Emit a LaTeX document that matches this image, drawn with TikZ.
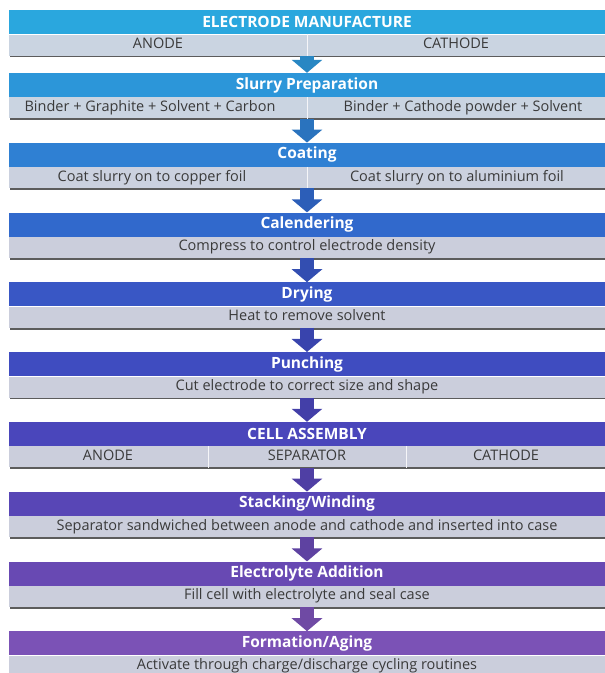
\documentclass[tikz,border=0pt]{standalone}
\usepackage{fontspec}
\setmainfont{Open Sans}
\usetikzlibrary{positioning, arrows.meta, shadows}

\definecolor{band0}{HTML}{2AA7DE}
\definecolor{band1}{HTML}{2C96D9}
\definecolor{band2}{HTML}{2F80D3}
\definecolor{band3}{HTML}{3169CC}
\definecolor{band4}{HTML}{3957C5}
\definecolor{band5}{HTML}{3F4CC0}
\definecolor{band6}{HTML}{4A46BB}
\definecolor{band7}{HTML}{5846B6}
\definecolor{band8}{HTML}{6849B3}
\definecolor{band9}{HTML}{7B52B6}
\definecolor{rowgray}{HTML}{CBCEDC}
\definecolor{rowblue}{HTML}{CAD4E1}
\definecolor{rowtext}{HTML}{3A3A3A}

\begin{document}
\begin{tikzpicture}[node distance=24pt,
      head/.style={rectangle, minimum width=596pt, minimum height=24pt, inner sep=0pt,
        text=white, font=\bfseries\fontsize{15.5}{17}\selectfont},
      row/.style={rectangle, fill=rowgray, minimum width=596pt, minimum height=21pt, inner sep=0pt,
        drop shadow={shadow xshift=0.6pt, shadow yshift=-1.8pt, fill=black!75, opacity=0.85}},
      rowtxt/.style={inner sep=0pt, text=rowtext, text height=10pt, text depth=3pt,
        font=\fontsize{14.5}{16}\selectfont},
      divider/.style={draw=white!80!rowgray, line width=0.8pt},
      flow/.style={line width=14pt, -{Triangle[width=30pt, length=13pt]}}]

      \useasboundingbox (0,0) rectangle (605pt,673pt);

      % electrode manufacture
      \node[head, fill=band0, anchor=north] (h0) at (307pt,663pt) {ELECTRODE MANUFACTURE};
      \node[row, fill=rowblue] (s0) [below=0pt of h0] {};
      \node[rowtxt] (s0a) at ([xshift=-149pt]s0.center) {ANODE};
      \node[rowtxt] (s0b) at ([xshift=149pt]s0.center) {CATHODE};
      \draw[divider] (s0.north) -- (s0.south);

      \node[head, fill=band1] (h1) [below=17pt of s0] {Slurry Preparation};
      \node[row, fill=rowblue] (s1) [below=0pt of h1] {};
      \node[rowtxt] (s1a) at ([xshift=-157pt]s1.center) {Binder + Graphite + Solvent + Carbon};
      \node[rowtxt] (s1b) at ([xshift=156pt]s1.center) {Binder + Cathode powder + Solvent};
      \draw[divider] (s1.north) -- (s1.south);

      \node[head, fill=band2] (h2) [below=of s1] {Coating};
      \node[row, fill=rowblue!50!rowgray] (s2) [below=0pt of h2] {};
      \node[rowtxt] (s2a) at ([xshift=-155pt]s2.center) {Coat slurry on to copper foil};
      \node[rowtxt] (s2b) at ([xshift=150pt]s2.center) {Coat slurry on to aluminium foil};
      \draw[divider] (s2.north) -- (s2.south);

      \node[head, fill=band3] (h3) [below=of s2] {Calendering};
      \node[row] (s3) [below=0pt of h3] {};
      \node[rowtxt] (s3a) at (s3.center) {Compress to control electrode density};

      \node[head, fill=band4] (h4) [below=of s3] {Drying};
      \node[row] (s4) [below=0pt of h4] {};
      \node[rowtxt] (s4a) at (s4.center) {Heat to remove solvent};

      \node[head, fill=band5] (h5) [below=of s4] {Punching};
      \node[row] (s5) [below=0pt of h5] {};
      \node[rowtxt] (s5a) at (s5.center) {Cut electrode to correct size and shape};

      % cell assembly
      \node[head, fill=band6] (h6) [below=of s5] {CELL ASSEMBLY};
      \node[row] (s6) [below=0pt of h6] {};
      \node[rowtxt] (s6a) at ([xshift=-199pt]s6.center) {ANODE};
      \node[rowtxt] (s6b) at (s6.center) {SEPARATOR};
      \node[rowtxt] (s6c) at ([xshift=199pt]s6.center) {CATHODE};
      \draw[divider] ([xshift=-99pt]s6.north) -- ([xshift=-99pt]s6.south);
      \draw[divider] ([xshift=99pt]s6.north) -- ([xshift=99pt]s6.south);

      \node[head, fill=band7] (h7) [below=of s6] {Stacking/Winding};
      \node[row] (s7) [below=0pt of h7] {};
      \node[rowtxt] (s7a) at (s7.center) {Separator sandwiched between anode and cathode and inserted into case};

      \node[head, fill=band8] (h8) [below=of s7] {Electrolyte Addition};
      \node[row] (s8) [below=0pt of h8] {};
      \node[rowtxt] (s8a) at (s8.center) {Fill cell with electrolyte and seal case};

      \node[head, fill=band9] (h9) [below=of s8] {Formation/Aging};
      \node[row] (s9) [below=0pt of h9] {};
      \node[rowtxt] (s9a) at (s9.center) {Activate through charge/discharge cycling routines};

      % arrows between steps
      \draw[flow, draw=band1!90!black] (s0) -- (h1);
      \draw[flow, draw=band2!90!black] (s1) -- (h2);
      \draw[flow, draw=band3!90!black] (s2) -- (h3);
      \draw[flow, draw=band4!90!black] (s3) -- (h4);
      \draw[flow, draw=band5!90!black] (s4) -- (h5);
      \draw[flow, draw=band6!90!black] (s5) -- (h6);
      \draw[flow, draw=band7!90!black] (s6) -- (h7);
      \draw[flow, draw=band8!90!black] (s7) -- (h8);
      \draw[flow, draw=band9!90!black] (s8) -- (h9);
\end{tikzpicture}
\end{document}
